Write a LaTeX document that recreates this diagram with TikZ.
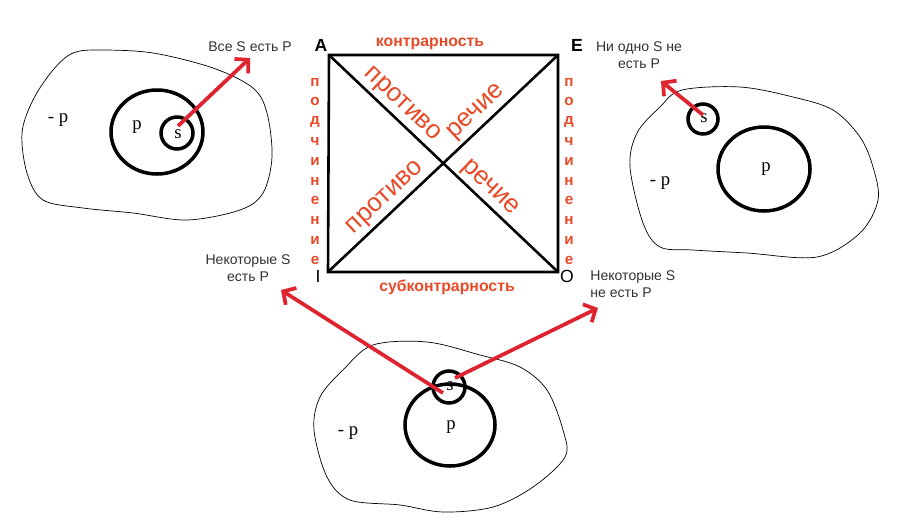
\documentclass[tikz,border=0pt]{standalone}
\usepackage{fontspec}
\setmainfont{Liberation Sans}
\newfontfamily\lserif{Liberation Serif}
\usetikzlibrary{arrows.meta}
\definecolor{arrowred}{RGB}{222,36,46}
\definecolor{textred}{RGB}{232,74,40}
\definecolor{capgray}{RGB}{50,50,50}

\begin{document}
\begin{tikzpicture}[x=0.03cm, y=-0.03cm,
	blob/.style={line width=0.6pt},
	ring/.style={line width=3pt},
	side/.style={line width=2.2pt},
	redarrow/.style={draw=arrowred, line width=3.2pt, -{Straight Barb[length=8pt,width=17pt]}},
	caption/.style={text=capgray, font=\fontsize{12}{14}\selectfont, inner sep=1pt},
	corner/.style={font=\fontsize{15}{17}\selectfont\bfseries, inner sep=0pt},
	relname/.style={text=textred, font=\fontsize{13.5}{15}\selectfont\bfseries, inner sep=0pt},
	sidechar/.style={text=textred, font=\fontsize{13}{14}\selectfont\bfseries, inner sep=0pt},
	diag/.style={sloped, text=textred, font=\fontsize{22}{24}\selectfont, inner sep=2.5pt},
	letter/.style={font=\fontsize{16}{18}\selectfont\lserif, inner sep=0pt}]
	\useasboundingbox (0,0) rectangle (901,529);

	% square of opposition
	\coordinate (A) at (329,55);
	\coordinate (E) at (558,55);
	\coordinate (I) at (328,272);
	\coordinate (O) at (558,272);
	\draw [side] (A) -- (E) -- (O) -- (I) -- cycle;
	\draw [side] (A) -- (O) node [diag, pos=0.276, above] {противо} node [diag, pos=0.66, above] {речие};
	\draw [side] (I) -- (E) node [diag, pos=0.293, above] {противо} node [diag, pos=0.689, above] {речие};
	\node [corner] (lA) at (321,45) {A};
	\node [corner] (lE) at (577,45) {E};
	\node [corner, font=\fontsize{15}{17}\selectfont] (lI) at (318,276) {I};
	\node [corner, font=\fontsize{15}{17}\selectfont] (lO) at (567,276) {O};
	\node [relname] (contr) at (430,44) {контрарность};
	\node [relname] (subcontr) at (447,287) {субконтрарность};
	\foreach \ch [count=\k from 0] in {п,о,д,ч,и,н,е,н,и,е} {
		\node [sidechar] (subl\k) at (315,{82+19.8*\k}) {\ch};
		\node [sidechar] (subr\k) at (569,{82+19.8*\k}) {\ch};
	}

	% captions
	\node [caption] (capA) at (250,47) {Все S есть P};
	\node [caption, align=center] (capE) at (639,55) {Ни одно S не\\есть P};
	\node [caption, align=center] (capI) at (248,268) {Некоторые S\\есть P};
	\node [caption, align=left, anchor=west] (capO) at (589,284) {Некоторые S\\не есть P};

	% left: all S are P
	\draw [blob] plot [smooth cycle, tension=0.55] coordinates {(73,53) (100,50) (153,53) (213,68) (253,88) (267,113) (272,157) (263,193) (240,210) (187,220) (133,213) (83,208) (43,200) (27,173) (22,133) (33,100) (53,70)};
	\draw [ring] (157,132) ellipse [x radius=46, y radius=42];
	\draw [ring] (177,133) circle [radius=16];
	\node [letter] (lp) at (137,127) {p};
	\node [letter] (ls) at (178,134) {s};
	\node [letter] (lnp) at (58,120) {- p};
	\coordinate (lfrom) at (178,126);
	\coordinate (lto) at (250,58);
	\draw [redarrow] (lfrom) -- (lto);

	% right: no S is P
	\draw [blob] plot [smooth cycle, tension=0.55] coordinates {(682,90) (740,87) (793,97) (833,110) (860,137) (873,167) (878,200) (860,233) (817,257) (747,253) (693,250) (660,247) (643,223) (630,167) (637,133) (660,107)};
	\draw [ring] (764,169) ellipse [x radius=46, y radius=42];
	\draw [ring] (703,119) circle [radius=15];
	\node [letter] (rp) at (766,169) {p};
	\node [letter] (rs) at (704,118) {s};
	\node [letter] (rnp) at (660,183) {- p};
	\coordinate (rfrom) at (703,115);
	\coordinate (rto) at (661,81);
	\draw [redarrow] (rfrom) -- (rto);

	% bottom: some S are P, some S are not P
	\draw [blob] plot [smooth cycle, tension=0.55] coordinates {(373,345) (427,342) (480,355) (520,367) (547,390) (563,430) (565,457) (533,487) (493,507) (443,512) (400,505) (350,500) (327,477) (314,430) (320,397) (343,370)};
	\draw [ring] (450,425) ellipse [x radius=45, y radius=41];
	\draw [ring] (449,387) circle [radius=16];
	\node [letter] (bp) at (451,427) {p};
	\node [letter] (bs) at (450,386) {s};
	\node [letter] (bnp) at (348,433) {- p};
	\coordinate (bfromI) at (443,393);
	\coordinate (bfromO) at (455,378);
	\coordinate (btoI) at (281,290);
	\coordinate (btoO) at (598,308);
	\draw [redarrow] (bfromI) -- (btoI);
	\draw [redarrow] (bfromO) -- (btoO);
\end{tikzpicture}
\end{document}
